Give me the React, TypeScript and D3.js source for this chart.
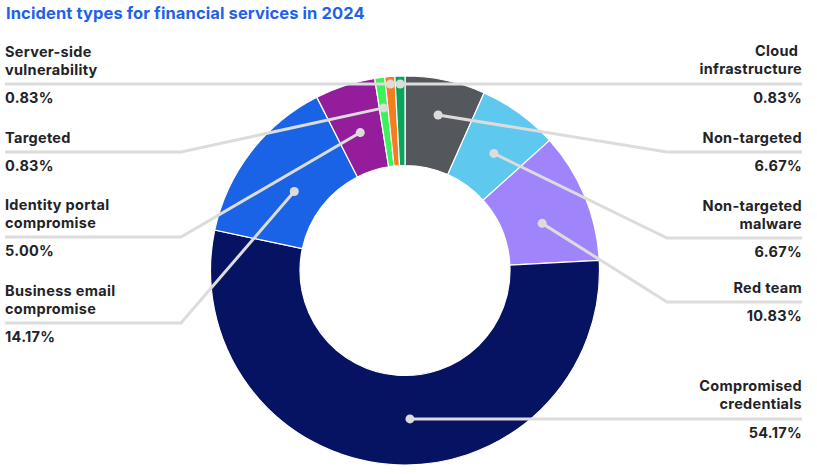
import * as d3 from 'd3'
import { useEffect } from 'react'

const categories = [
  'Non-targeted',
  'Non-targeted malware',
  'Red team',
  'Compromised credentials',
  'Business email compromise',
  'Identity portal compromise',
  'Targeted',
  'Server-side vulnerability',
  'Cloud infrastructure',
]
const values = [6.67, 6.67, 10.83, 54.17, 14.17, 5.0, 0.83, 0.83, 0.83]
const colors = ['#54585c', '#5ec8ef', '#a084fc', '#061262', '#1a63e6', '#931d9a', '#3cf15c', '#f57c1f', '#0aa55c']

// label text as it wraps in the picture
const labelLines = [
  ['Non-targeted'],
  ['Non-targeted', 'malware'],
  ['Red team'],
  ['Compromised', 'credentials'],
  ['Business email', 'compromise'],
  ['Identity portal', 'compromise'],
  ['Targeted'],
  ['Server-side', 'vulnerability'],
  ['Cloud ', 'infrastructure'],
]

// leader layout: side, y of the horizontal rule (null = level with the dot), dot radius, position inside slice
const layout = [
  { side: 'right', lineY: 152, r: 159, at: 0.5 },
  { side: 'right', lineY: 238, r: 147, at: 0.55 },
  { side: 'right', lineY: 302, r: 145, at: 0.59 },
  { side: 'right', lineY: null, r: 148.5, at: 0.467 },
  { side: 'left', lineY: 323, r: 136, at: 0.46 },
  { side: 'left', lineY: 237, r: 145, at: 0.5 },
  { side: 'left', lineY: 152, r: 164, at: 0.5 },
  { side: 'left', lineY: null, r: 187, at: 0.5 },
  { side: 'right', lineY: null, r: 186.6, at: 0.5 },
]

const width = 817
const height = 474
const cx = 405
const cy = 270.5
const outerR = 194.5
const innerR = 105
const leftX = 5
const rightX = 802
const elbowLeft = 181
const elbowRight = 667
const lineColor = '#dcdcdc'
const textColor = '#222326'
const font = 'Inter, "Open Sans", sans-serif'

const App = () => {
  useEffect(() => {
    document.body.style.margin = '0'
  }, [])

  const pie = d3.pie<number>().sort(null).value((d) => d)
  const arcs = pie(values)
  const arc = d3.arc<d3.PieArcDatum<number>>().innerRadius(innerR).outerRadius(outerR)

  return (
    <svg width={width} height={height} viewBox={`0 0 ${width} ${height}`} style={{ display: 'block' }}>
      <text x={6} y={19} fill="#1f62e8" fontFamily={font} fontWeight={700} fontSize={16.5} letterSpacing={0.1}>
        Incident types for financial services in 2024
      </text>
      <g transform={`translate(${cx}, ${cy})`}>
        {arcs.map((a, i) => (
          <path key={categories[i]} d={arc(a) ?? ''} fill={colors[i]} stroke="#fff" strokeWidth={1.2} />
        ))}
      </g>
      {arcs.map((a, i) => {
        const l = layout[i]
        const ang = a.startAngle + (a.endAngle - a.startAngle) * l.at
        const dx = cx + l.r * Math.sin(ang)
        const dy = cy - l.r * Math.cos(ang)
        const ly = l.lineY ?? dy
        const isLeft = l.side === 'left'
        const endX = isLeft ? leftX : rightX
        const elbowX = isLeft ? elbowLeft : elbowRight
        const pts: [number, number][] =
          l.lineY === null
            ? [
                [dx, dy],
                [endX, ly],
              ]
            : [
                [dx, dy],
                [elbowX, ly],
                [endX, ly],
              ]
        const lines = labelLines[i]
        const anchor = isLeft ? 'start' : 'end'
        return (
          <g key={categories[i]}>
            <path d={d3.line()(pts) ?? ''} fill="none" stroke={lineColor} strokeWidth={3} />
            <circle cx={dx} cy={dy} r={4.5} fill={lineColor} />
            {lines.map((t, j) => (
              <text
                key={j}
                x={endX}
                y={ly - 9.5 - (lines.length - 1 - j) * 18}
                textAnchor={anchor}
                fill={textColor}
                fontFamily={font}
                fontWeight={700}
                fontSize={14.5}
                letterSpacing={0.3}
                xmlSpace="preserve"
              >
                {t}
              </text>
            ))}
            <text
              x={endX}
              y={ly + 19}
              textAnchor={anchor}
              fill={textColor}
              fontFamily={font}
              fontWeight={700}
              fontSize={14.5}
              letterSpacing={0.3}
            >
              {values[i].toFixed(2)}%
            </text>
          </g>
        )
      })}
    </svg>
  )
}

export default App
